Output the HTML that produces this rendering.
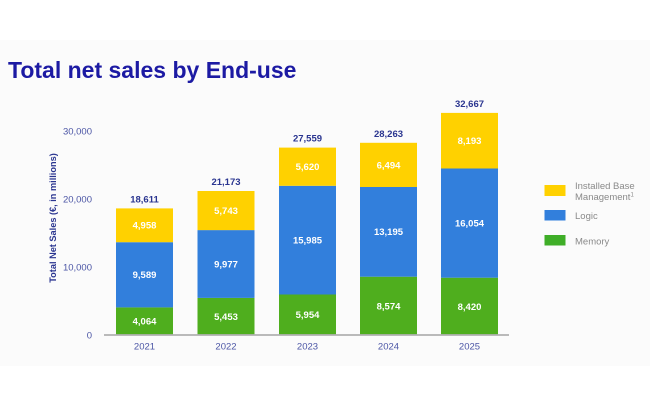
<!DOCTYPE html>
<html><head><meta charset="utf-8"><style>
html,body{margin:0;padding:0;background:#fff;}
svg{display:block;font-family:"Liberation Sans",Arial,sans-serif;}
</style></head><body>
<svg width="650" height="408" viewBox="0 0 650 408" xmlns="http://www.w3.org/2000/svg">
<rect x="0" y="0" width="650" height="408" fill="#ffffff"/>
<rect x="0" y="40" width="650" height="326" fill="#fbfbfb"/>
<text x="8" y="78" font-size="23" font-weight="bold" fill="#1c1aa3">Total net sales by End-use</text>

<!-- y tick labels -->
<g font-size="9.5" fill="#4b55a5" text-anchor="end">
<text x="92" y="134.5">30,000</text>
<text x="92" y="202.5">20,000</text>
<text x="92" y="270.5">10,000</text>
<text x="92" y="338.5">0</text>
</g>
<text transform="translate(56,218) rotate(-90)" font-size="9.2" font-weight="bold" fill="#2a3590" text-anchor="middle">Total Net Sales (€, in millions)</text>

<!-- bars -->
<g>
<rect x="116" y="307.4" width="57" height="27.6" fill="#4fae1e"/>
<rect x="116" y="242.2" width="57" height="65.2" fill="#327fdc"/>
<rect x="116" y="208.4" width="57" height="33.8" fill="#ffd100"/>
<rect x="197.5" y="297.9" width="57" height="37.1" fill="#4fae1e"/>
<rect x="197.5" y="230.1" width="57" height="67.8" fill="#327fdc"/>
<rect x="197.5" y="191.0" width="57" height="39.1" fill="#ffd100"/>
<rect x="279" y="294.5" width="57" height="40.5" fill="#4fae1e"/>
<rect x="279" y="185.8" width="57" height="108.7" fill="#327fdc"/>
<rect x="279" y="147.6" width="57" height="38.2" fill="#ffd100"/>
<rect x="360" y="276.7" width="57" height="58.3" fill="#4fae1e"/>
<rect x="360" y="187.0" width="57" height="89.7" fill="#327fdc"/>
<rect x="360" y="142.8" width="57" height="44.2" fill="#ffd100"/>
<rect x="441" y="277.7" width="57" height="57.3" fill="#4fae1e"/>
<rect x="441" y="168.5" width="57" height="109.2" fill="#327fdc"/>
<rect x="441" y="112.9" width="57" height="55.6" fill="#ffd100"/>
</g>

<line x1="104" y1="335" x2="509" y2="335" stroke="#b0b0b0" stroke-width="1.8"/>

<!-- inside labels -->
<g font-size="9.5" font-weight="bold" fill="#ffffff" text-anchor="middle">
<text x="144.5" y="324.6">4,064</text>
<text x="144.5" y="278.2">9,589</text>
<text x="144.5" y="228.7">4,958</text>
<text x="226" y="319.9">5,453</text>
<text x="226" y="267.4">9,977</text>
<text x="226" y="213.9">5,743</text>
<text x="307.5" y="318.2">5,954</text>
<text x="307.5" y="243.5">15,985</text>
<text x="307.5" y="170.1">5,620</text>
<text x="388.5" y="309.3">8,574</text>
<text x="388.5" y="235.2">13,195</text>
<text x="388.5" y="168.3">6,494</text>
<text x="469.5" y="309.8">8,420</text>
<text x="469.5" y="226.5">16,054</text>
<text x="469.5" y="144.1">8,193</text>
</g>

<!-- totals -->
<g font-size="9.5" font-weight="bold" fill="#2a3590" text-anchor="middle">
<text x="144.5" y="202.5">18,611</text>
<text x="226" y="185">21,173</text>
<text x="307.5" y="141.5">27,559</text>
<text x="388.5" y="136.8">28,263</text>
<text x="469.5" y="107">32,667</text>
</g>

<!-- x labels -->
<g font-size="9.5" fill="#4b55a5" text-anchor="middle">
<text x="144.5" y="349.5">2021</text>
<text x="226" y="349.5">2022</text>
<text x="307.5" y="349.5">2023</text>
<text x="388.5" y="349.5">2024</text>
<text x="469.5" y="349.5">2025</text>
</g>

<!-- legend -->
<rect x="544.5" y="185" width="21" height="11" fill="#ffd100"/>
<rect x="544.5" y="210" width="21" height="10.5" fill="#327fdc"/>
<rect x="544.5" y="235" width="21" height="10.5" fill="#3fae28"/>
<g font-size="9.5" fill="#8a8a8a">
<text x="575" y="189">Installed Base</text>
<text x="575" y="200">Management<tspan font-size="6" dy="-3.5">1</tspan></text>
<text x="575" y="219">Logic</text>
<text x="575" y="244.3">Memory</text>
</g>
</svg>
</body></html>
